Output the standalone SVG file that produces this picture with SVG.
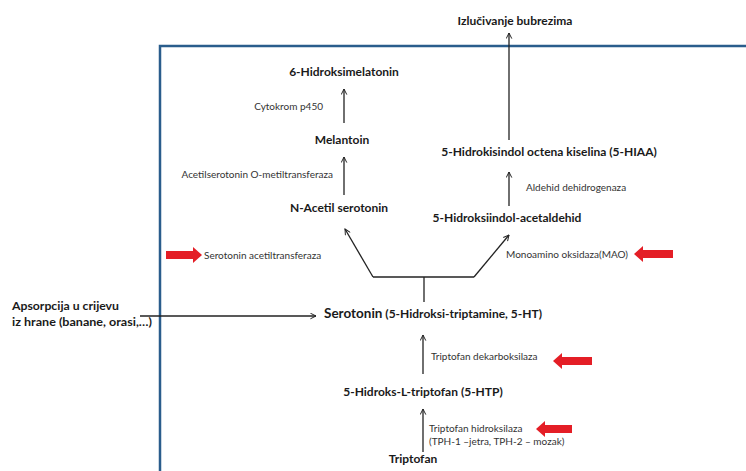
<svg xmlns="http://www.w3.org/2000/svg" width="746" height="471" viewBox="0 0 746 471">
<defs>
<style>
.n{font-family:Lato,"Open Sans","Liberation Sans",sans-serif;font-weight:bold;font-size:12px;fill:#1a1a1a}
.e{font-family:Lato,"Open Sans","Liberation Sans",sans-serif;font-size:10px;fill:#333}
.c{stroke:#222;stroke-width:1.3;fill:none}
.r{fill:#e41e26}
</style>
<marker id="ah" viewBox="0 0 10 10" refX="9" refY="5" markerWidth="7" markerHeight="7" orient="auto" markerUnits="userSpaceOnUse">
<path d="M1,1 L9,5 L1,9" fill="none" stroke="#222" stroke-width="1.4"/>
</marker>
</defs>
<rect width="746" height="471" fill="#fff"/>
<path d="M160,475 L160,46 L750,46" fill="none" stroke="#2a5d8c" stroke-width="2.5"/>

<g id="connectors">
<line class="c" x1="509" y1="140" x2="509" y2="33" marker-end="url(#ah)"/>
<line class="c" x1="344" y1="123" x2="344" y2="89" marker-end="url(#ah)"/>
<line class="c" x1="344" y1="195" x2="344" y2="157" marker-end="url(#ah)"/>
<line class="c" x1="509" y1="206" x2="509" y2="172" marker-end="url(#ah)"/>
<polyline class="c" points="424,302 424,277"/>
<polyline class="c" points="373,277 474,277"/>
<line class="c" x1="373" y1="277" x2="345" y2="229" marker-end="url(#ah)"/>
<line class="c" x1="474" y1="277" x2="509" y2="235" marker-end="url(#ah)"/>
<line class="c" x1="140" y1="316" x2="316" y2="316" marker-end="url(#ah)"/>
<line class="c" x1="423" y1="374" x2="423" y2="335" marker-end="url(#ah)"/>
<line class="c" x1="423" y1="452" x2="423" y2="409" marker-end="url(#ah)"/>
</g>

<g id="izlucivanje"><text class="n" x="515" y="25" text-anchor="middle">Izlučivanje bubrezima</text></g>
<g id="hidroksimelatonin"><text class="n" x="344" y="76" text-anchor="middle">6-Hidroksimelatonin</text></g>
<g id="cytokrom"><text class="e" x="323" y="110" text-anchor="end">Cytokrom p450</text></g>
<g id="melantoin"><text class="n" x="342" y="144" text-anchor="middle">Melantoin</text></g>
<g id="aomt"><text class="e" x="333" y="178" text-anchor="end">Acetilserotonin O-metiltransferaza</text></g>
<g id="nacetil"><text class="n" x="339" y="212" text-anchor="middle">N-Acetil serotonin</text></g>
<g id="hiaa"><text class="n" x="549" y="156" text-anchor="middle">5-Hidrokisindol octena kiselina (5-HIAA)</text></g>
<g id="aldh"><text class="e" x="526" y="191">Aldehid dehidrogenaza</text></g>
<g id="acetaldehid"><text class="n" x="507" y="222" text-anchor="middle">5-Hidroksiindol-acetaldehid</text></g>
<g id="sat">
<path class="r" d="M166,251 L193,251 L193,247 L202,255 L193,263 L193,259 L166,259 Z"/>
<text class="e" x="204" y="259" font-size="11">Serotonin acetiltransferaza</text>
</g>
<g id="mao">
<text class="e" x="506" y="258" font-size="10.4">Monoamino oksidaza(MAO)</text>
<path class="r" d="M673,250 L643,250 L643,246 L634,254 L643,262 L643,258 L673,258 Z"/>
</g>
<g id="apsorpcija">
<text class="n" x="12" y="310" font-size="11" textLength="107" lengthAdjust="spacingAndGlyphs">Apsorpcija u crijevu</text>
<text class="n" x="12" y="326" font-size="11" textLength="140" lengthAdjust="spacingAndGlyphs">iz hrane (banane, orasi,…)</text>
</g>
<g id="serotonin"><text class="n" x="324" y="318" font-size="12.5"><tspan font-size="13.5">Serotonin</tspan> (5-Hidroksi-triptamine, 5-HT)</text></g>
<g id="tdc">
<text class="e" x="431" y="360" font-size="11.2">Triptofan dekarboksilaza</text>
<path class="r" d="M592,357 L562,357 L562,353 L553,361 L562,369 L562,365 L592,365 Z"/>
</g>
<g id="htp"><text class="n" x="423" y="396" text-anchor="middle">5-Hidroks-L-triptofan (5-HTP)</text></g>
<g id="tph">
<text class="e" x="429" y="432" font-size="11.3">Triptofan hidroksilaza</text>
<text class="e" x="429" y="445">(TPH-1 –jetra, TPH-2 – mozak)</text>
<path class="r" d="M572,425 L545,425 L545,421 L536,429 L545,437 L545,433 L572,433 Z"/>
</g>
<g id="triptofan"><text class="n" x="413" y="463" text-anchor="middle">Triptofan</text></g>
</svg>
